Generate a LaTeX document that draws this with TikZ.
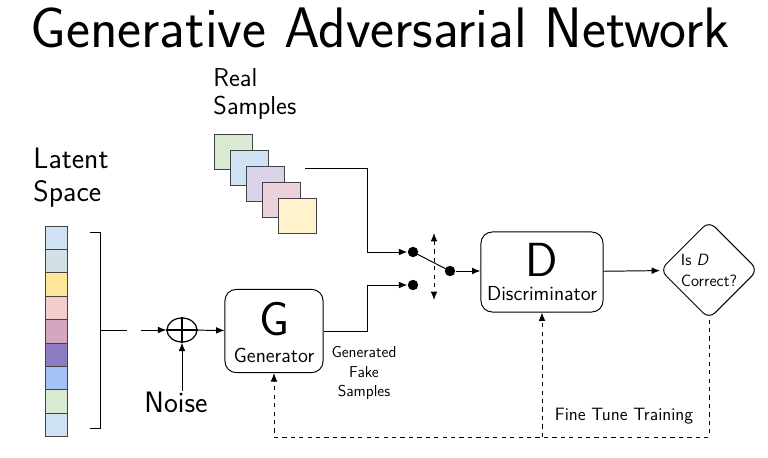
\documentclass[tikz,border=0pt]{standalone}
\usepackage{tikz}
\usetikzlibrary{arrows.meta}
\usetikzlibrary{shapes.geometric}
\usetikzlibrary{positioning}
\renewcommand{\familydefault}{\sfdefault}

\begin{document}
\begin{tikzpicture}[x=0.025cm, y=-0.025cm, line width=0.7pt,
        >={Latex[length=6pt,width=4.8pt]},
        block/.style={draw, rounded corners=8pt, inner sep=0pt},
        dot/.style={circle, fill, inner sep=0pt, minimum size=0.26cm},
        cell/.style={draw=edgegray, line width=0.6pt},
        bigletter/.style={font=\fontsize{34}{34}\selectfont, inner sep=0pt},
        boxlabel/.style={font=\fontsize{14.4}{16}\selectfont, inner sep=0pt},
        sidelabel/.style={font=\fontsize{21}{24}\selectfont, align=left, inner sep=0pt},
        smalllabel/.style={font=\fontsize{11.2}{14}\selectfont, inner sep=0pt}]
    \definecolor{edgegray}{HTML}{434343}
    \definecolor{lblue}{HTML}{CFE2F3}
    \definecolor{lcyan}{HTML}{D0E0E3}
    \definecolor{lyellow}{HTML}{FFE599}
    \definecolor{lpink}{HTML}{F4CCCC}
    \definecolor{lmauve}{HTML}{D5A6BD}
    \definecolor{dpurple}{HTML}{8E7CC3}
    \definecolor{mblue}{HTML}{A4C2F4}
    \definecolor{lgreen}{HTML}{D9EAD3}
    \definecolor{llilac}{HTML}{D9D2E9}
    \definecolor{lrose}{HTML}{EAD1DC}
    \definecolor{lcream}{HTML}{FFF2CC}

    \useasboundingbox (0,0) rectangle (768,458);

    \node[font=\fontsize{40.6}{44}\selectfont, anchor=base, inner sep=0pt] (title) at (380,48) {Generative Adversarial Network};

    % latent vector
    \node[sidelabel, anchor=base west] (latent) at (33,202) {Latent\\Space};
    \foreach \c [count=\i from 0] in {lblue,lcyan,lyellow,lpink,lmauve,dpurple,mblue,lgreen,lblue}
        \draw[cell, fill=\c] (45,{226+23.4*\i}) rectangle ++(22,23.4);
    \draw (90,232) -- (100,232) -- (100,428) -- (90,428);
    \draw (100,330) -- (127,330);

    % real samples
    \node[sidelabel, anchor=base west, font=\fontsize{18.4}{20}\selectfont] (real) at (213,115) {Real\\Samples};
    \foreach \c [count=\i from 0] in {lgreen,lblue,llilac,lrose,lcream}
        \draw[cell, fill=\c] ({214+16.2*\i},{134+16.2*\i}) rectangle ++(38,35);

    \coordinate (zin) at (141,330);
    \coordinate (realout) at (305,168);
    \coordinate (swtop) at (434,233);
    \coordinate (swbot) at (434,300);
    \coordinate (loopbot) at (709,437);

    \node[draw, ellipse, minimum width=0.75cm, minimum height=0.6cm, inner sep=0pt, line width=0.9pt] (plus) at (182,330) {};
    \draw[line width=0.9pt] (plus.north) -- (plus.south);
    \draw[line width=0.9pt] (plus.west) -- (plus.east);
    \node[sidelabel, anchor=base] (noise) at (176,412) {Noise};

    \node[block, minimum width=2.45cm, minimum height=2.08cm] (gen) at (274,331) {};
    \node[bigletter, anchor=base] (gletter) at (274,335) {G};
    \node[boxlabel, anchor=base] (glabel) at (274,362) {Generator};

    \node[block, minimum width=3.05cm, minimum height=2cm] (disc) at (542,272) {};
    \node[bigletter, anchor=base] (dletter) at (542,277) {D};
    \node[boxlabel, anchor=base] (dlabel) at (542,300) {Discriminator};

    \node[draw, diamond, rounded corners=6pt, minimum size=2.45cm, inner sep=0pt,
          font=\fontsize{11.6}{15}\selectfont, align=left] (check) at (709,270) {Is \textit{D}\\Correct?};

    \node[dot] (realdot) at (413,252) {};
    \node[dot] (fakedot) at (413,285) {};
    \node[dot] (swdot) at (450,271) {};

    \node[smalllabel, align=center] (fakelabel) at (364,373) {Generated\\Fake\\Samples};
    \node[font=\fontsize{12.7}{14}\selectfont, inner sep=0pt] (tune) at (624,416) {Fine Tune Training};

    \draw[->] (zin) -- (plus);
    \draw[->] (noise.north -| plus) -- (plus);
    \draw[->] (plus) -- (gen);
    \draw[->] (gen.east) -- ++(44,0) |- (fakedot);
    \draw[->] (realout) -- ++(62,0) |- (realdot);
    \draw (realdot.center) -- (swdot.center);
    \draw[<->, dashed] (swtop) -- (swbot);
    \draw[->] (swdot) -- (swdot -| disc.west);
    \draw[->] (disc) -- (check);
    \draw[->, dashed] (check.south) -- (loopbot) -| (gen.south);
    \draw[->, dashed] (disc.south |- loopbot) -- (disc.south);
\end{tikzpicture}
\end{document}
